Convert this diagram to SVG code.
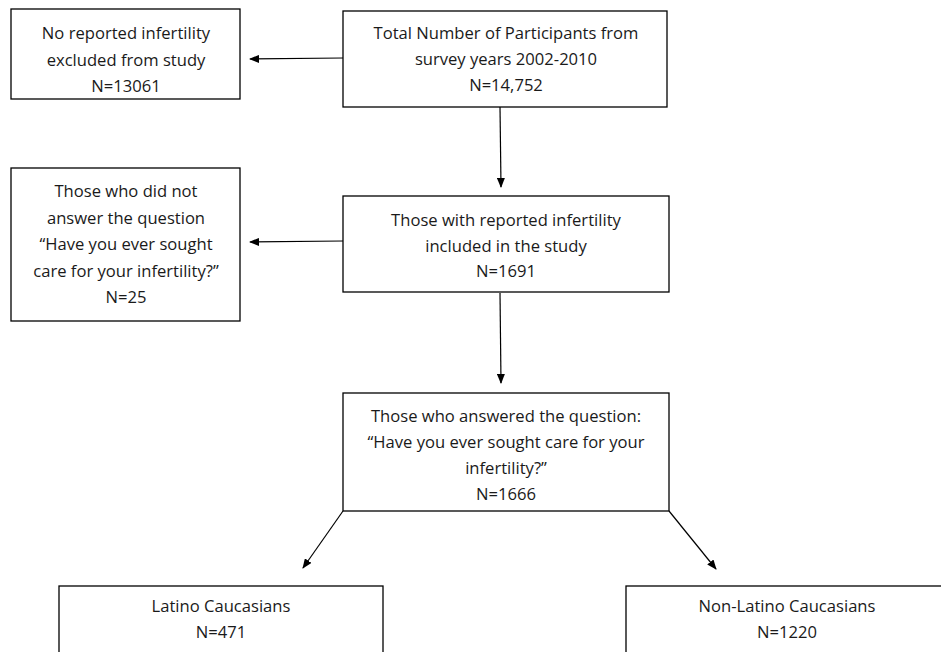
<svg xmlns="http://www.w3.org/2000/svg" width="941" height="652" viewBox="0 0 941 652">
<style>
.box{fill:#fff;stroke:#000;stroke-width:1.3}
.t{font-family:"Open Sans","Liberation Sans",sans-serif;font-size:16.6px;fill:#1a1a1a;text-anchor:middle;dominant-baseline:central}
.c{stroke:#000;stroke-width:1.2;fill:none;marker-end:url(#ah)}
</style>
<defs>
<marker id="ah" markerWidth="10" markerHeight="8" refX="9" refY="4" orient="auto" markerUnits="userSpaceOnUse">
<path d="M0,0 L10,4 L0,8 Z" fill="#000"/>
</marker>
</defs>
<rect width="941" height="652" fill="#fff"/>
<g id="connectors">
<line class="c" x1="343" y1="58" x2="250" y2="59"/>
<line class="c" x1="500" y1="107" x2="501" y2="187"/>
<line class="c" x1="343" y1="241" x2="250" y2="242"/>
<line class="c" x1="500" y1="293" x2="501" y2="383"/>
<line class="c" x1="343" y1="511" x2="303" y2="568"/>
<line class="c" x1="669" y1="511" x2="716" y2="569"/>
</g>
<g id="excluded">
<rect class="box" x="11" y="9" width="229" height="90"/>
<text class="t" x="126" y="32">No reported infertility</text>
<text class="t" x="126" y="59">excluded from study</text>
<text class="t" x="126" y="85">N=13061</text>
</g>
<g id="total">
<rect class="box" x="343" y="11" width="324" height="96"/>
<text class="t" x="506" y="32">Total Number of Participants from</text>
<text class="t" x="506" y="58">survey years 2002-2010</text>
<text class="t" x="506" y="84">N=14,752</text>
</g>
<g id="notanswered">
<rect class="box" x="11" y="168" width="229" height="153"/>
<text class="t" x="126" y="190">Those who did not</text>
<text class="t" x="126" y="217">answer the question</text>
<text class="t" x="126" y="243">“Have you ever sought</text>
<text class="t" x="126" y="270">care for your infertility?”</text>
<text class="t" x="126" y="296">N=25</text>
</g>
<g id="included">
<rect class="box" x="343" y="196" width="326" height="96"/>
<text class="t" x="506" y="219">Those with reported infertility</text>
<text class="t" x="506" y="245">included in the study</text>
<text class="t" x="506" y="270">N=1691</text>
</g>
<g id="answered">
<rect class="box" x="343" y="393" width="326" height="118"/>
<text class="t" x="506" y="415">Those who answered the question:</text>
<text class="t" x="506" y="441">“Have you ever sought care for your</text>
<text class="t" x="506" y="467">infertility?”</text>
<text class="t" x="506" y="493">N=1666</text>
</g>
<g id="latino">
<rect class="box" x="59" y="586" width="324" height="80"/>
<text class="t" x="221" y="605">Latino Caucasians</text>
<text class="t" x="221" y="631">N=471</text>
</g>
<g id="nonlatino">
<rect class="box" x="626" y="586" width="322" height="80"/>
<text class="t" x="787" y="605">Non-Latino Caucasians</text>
<text class="t" x="787" y="631">N=1220</text>
</g>
</svg>
